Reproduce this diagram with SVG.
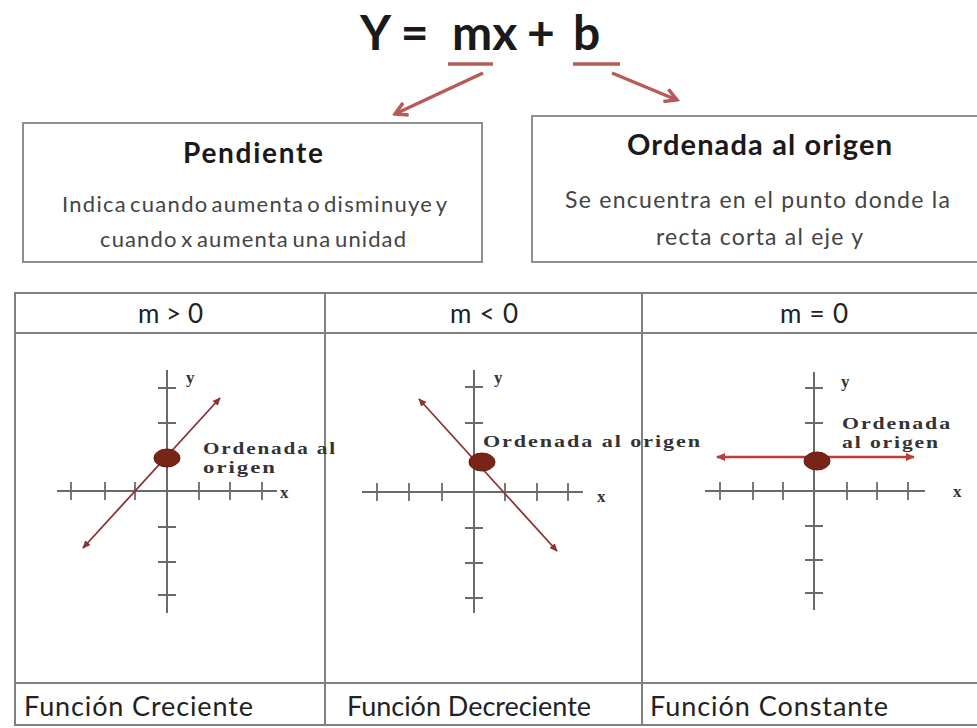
<svg xmlns="http://www.w3.org/2000/svg" width="977" height="728" viewBox="0 0 977 728">
<style>
.title{font-family:Lato,"Liberation Sans",sans-serif;font-weight:bold;fill:#1a1a1a}
.body{font-family:Lato,"Liberation Sans",sans-serif;fill:#444}
.cell{font-family:Lato,"Liberation Sans",sans-serif;fill:#222}
.box{fill:#fff;stroke:#8f8f8f;stroke-width:2}
.grid{stroke:#808080;stroke-width:2;fill:none}
.axis{stroke:#6a6a6a;stroke-width:2;fill:none}
.tick{stroke:#6a6a6a;stroke-width:1.8}
.lab{font-family:"Liberation Serif",serif;font-weight:bold;fill:#333;font-size:17px;letter-spacing:1.5px}
.uline{stroke:#b85a58;stroke-width:3.5}
.conn{stroke:#b85a58;stroke-width:3.5;fill:none}
.gline{stroke:#8b3434;stroke-width:1.8;fill:none}
.dot{fill:#7a2418;stroke:#5a1a10;stroke-width:1}
</style>
<defs>
<marker id="open" viewBox="0 0 12 12" refX="10" refY="6" markerWidth="16" markerHeight="16" markerUnits="userSpaceOnUse" orient="auto">
<path d="M1,1 L10,6 L1,11" fill="none" stroke="#b85a58" stroke-width="2.6"/>
</marker>
<marker id="tip" viewBox="0 0 10 10" refX="8" refY="5" markerWidth="9" markerHeight="9" markerUnits="userSpaceOnUse" orient="auto-start-reverse">
<path d="M0,1 L9,5 L0,9 z" fill="#8b3434"/>
</marker>
<marker id="tip3" viewBox="0 0 10 10" refX="8" refY="5" markerWidth="10" markerHeight="10" markerUnits="userSpaceOnUse" orient="auto-start-reverse">
<path d="M0,1 L9,5 L0,9 z" fill="#c03a3a"/>
</marker>
</defs>
<rect width="977" height="728" fill="#fff"/>

<g id="equation">
<text class="title" x="360" y="50" font-size="48">Y =<tspan x="452">mx</tspan><tspan x="527">+</tspan><tspan x="573">b</tspan></text>
<line class="uline" x1="448" y1="64" x2="493" y2="64"/>
<line class="uline" x1="573" y1="64" x2="620" y2="64"/>
</g>

<g id="connectors">
<line class="conn" x1="483" y1="73" x2="395" y2="114" marker-end="url(#open)"/>
<line class="conn" x1="612" y1="73" x2="677" y2="100" marker-end="url(#open)"/>
</g>

<g id="pendiente">
<rect class="box" x="23" y="123" width="459" height="139"/>
<text class="title" x="183" y="163" font-size="28" textLength="140">Pendiente</text>
<text class="body" x="62" y="212" font-size="22" textLength="385" word-spacing="-4">Indica cuando aumenta o disminuye y</text>
<text class="body" x="100" y="247" font-size="22" textLength="306" word-spacing="-3">cuando x aumenta una unidad</text>
</g>

<g id="ordenada">
<rect class="box" x="532" y="116" width="460" height="146"/>
<text class="title" x="627" y="155" font-size="29" textLength="265">Ordenada al origen</text>
<text class="body" x="565" y="208" font-size="23" textLength="385">Se encuentra en el punto donde la</text>
<text class="body" x="656" y="245" font-size="23" textLength="207">recta corta al eje y</text>
</g>

<g id="table">
<rect class="grid" x="15" y="293" width="975" height="432"/>
<line class="grid" x1="15" y1="333" x2="990" y2="333"/>
<line class="grid" x1="15" y1="683" x2="990" y2="683"/>
<line class="grid" x1="325" y1="293" x2="325" y2="725"/>
<line class="grid" x1="642" y1="293" x2="642" y2="725"/>
<text class="cell" x="138" y="323" font-size="26" textLength="65">m &gt; 0</text>
<text class="cell" x="450" y="323" font-size="26" textLength="68">m &lt; 0</text>
<text class="cell" x="780" y="323" font-size="26" textLength="68">m = 0</text>
<text class="cell" x="24" y="716" font-size="27" textLength="229">Función Creciente</text>
<text class="cell" x="347" y="716" font-size="27" textLength="244">Función Decreciente</text>
<text class="cell" x="650" y="716" font-size="27" textLength="238">Función Constante</text>
</g>

<g id="graph-creciente">
<line class="axis" x1="167" y1="370" x2="167" y2="613"/>
<line class="axis" x1="57" y1="491" x2="277" y2="491"/>
<path class="tick" d="M71,482V500M105,482V500M135,482V500M199,482V500M230,482V500M262,482V500M158,388H176M158,423H176M158,527H176M158,562H176M158,595H176"/>
<line class="gline" x1="83" y1="548" x2="220" y2="398" marker-start="url(#tip)" marker-end="url(#tip)"/>
<ellipse class="dot" cx="167" cy="458" rx="13" ry="9"/>
<text class="lab" x="186" y="383">y</text>
<text class="lab" x="280" y="498">x</text>
<text class="lab" x="203" y="454" textLength="134" lengthAdjust="spacingAndGlyphs">Ordenada al</text>
<text class="lab" x="203" y="473" textLength="74" lengthAdjust="spacingAndGlyphs">origen</text>
</g>

<g id="graph-decreciente">
<line class="axis" x1="474" y1="370" x2="474" y2="613"/>
<line class="axis" x1="362" y1="492" x2="583" y2="492"/>
<path class="tick" d="M377,483V501M409,483V501M442,483V501M505,483V501M537,483V501M568,483V501M465,387H483M465,423H483M465,528H483M465,563H483M465,598H483"/>
<line class="gline" x1="419" y1="399" x2="557" y2="551" marker-start="url(#tip)" marker-end="url(#tip)"/>
<ellipse class="dot" cx="482" cy="462" rx="13" ry="9"/>
<text class="lab" x="494" y="383">y</text>
<text class="lab" x="597" y="502">x</text>
<text class="lab" x="483" y="447" textLength="219" lengthAdjust="spacingAndGlyphs">Ordenada al origen</text>
</g>

<g id="graph-constante">
<line class="axis" x1="814" y1="372" x2="814" y2="610"/>
<line class="axis" x1="705" y1="491" x2="925" y2="491"/>
<path class="tick" d="M720,482V500M753,482V500M783,482V500M847,482V500M877,482V500M908,482V500M805,388H823M805,423H823M805,526H823M805,560H823M805,593H823"/>
<line x1="717" y1="457" x2="914" y2="457" stroke="#c03a3a" stroke-width="2.5" marker-start="url(#tip3)" marker-end="url(#tip3)"/>
<ellipse class="dot" cx="817" cy="461" rx="13" ry="9"/>
<text class="lab" x="841" y="387">y</text>
<text class="lab" x="953" y="497">x</text>
<text class="lab" x="842" y="429" textLength="110" lengthAdjust="spacingAndGlyphs">Ordenada</text>
<text class="lab" x="842" y="448" textLength="98" lengthAdjust="spacingAndGlyphs">al origen</text>
</g>
</svg>
